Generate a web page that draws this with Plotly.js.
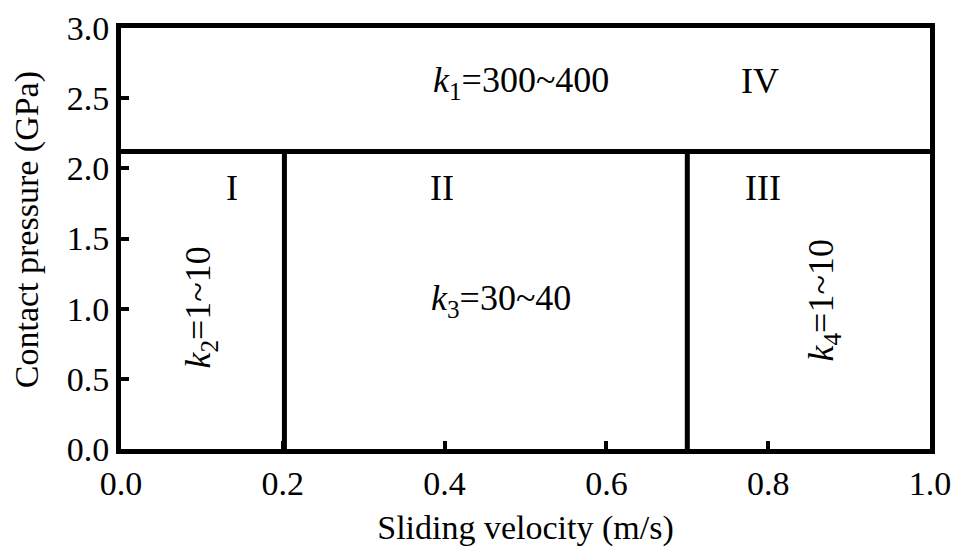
<!DOCTYPE html>
<html><head><meta charset="utf-8">
<script src="https://cdn.plot.ly/plotly-3.0.1.min.js"></script>
<style>html,body{margin:0;padding:0;background:#fff}#c{width:960px;height:547px}</style>
</head><body><div id="c"></div>
<script>
// Region boundaries
const boundaryPressure = 2.12;      // GPa, horizontal line
const boundaryVelocities = [0.202, 0.70]; // m/s, vertical lines
// Region labels
const regionLabels = ["I", "II", "III", "IV"];
const regionLabelX = [0.137, 0.397, 0.794, 0.79];
const regionLabelY = [1.86, 1.86, 1.86, 2.62];
// Coefficient labels
const coefTexts = ["<i>k</i><sub>1</sub>=300~400", "<i>k</i><sub>2</sub>=1~10", "<i>k</i><sub>3</sub>=30~40", "<i>k</i><sub>4</sub>=1~10"];
const coefX = [0.494, 0.098, 0.47, 0.868];
const coefY = [2.61, 1.01, 1.06, 1.06];
const coefAngle = [0, -90, 0, -90];
const xTicks = [0.0, 0.2, 0.4, 0.6, 0.8, 1.0];
const yTicks = [0.0, 0.5, 1.0, 1.5, 2.0, 2.5, 3.0];
const xTitle = "Sliding velocity (m/s)";
const yTitle = "Contact pressure (GPa)";

const FAM = '"Liberation Serif", "Times New Roman", serif';
function mkFont(s) { return {family: FAM, size: s, color: "#000000"}; }
const lineStyle = {color: "#000", width: 5};

const traces = [];
traces.push({x: [0, 1], y: [boundaryPressure, boundaryPressure], mode: "lines", line: lineStyle, hoverinfo: "skip", showlegend: false});
boundaryVelocities.forEach(v => {
  traces.push({x: [v, v], y: [0, boundaryPressure], mode: "lines", line: lineStyle, hoverinfo: "skip", showlegend: false});
});

const annotations = [];
regionLabels.forEach((t, i) => annotations.push({x: regionLabelX[i], y: regionLabelY[i], xref: "x", yref: "y", text: t, showarrow: false, font: mkFont(36)}));
coefTexts.forEach((t, i) => annotations.push({x: coefX[i], y: coefY[i], xref: "x", yref: "y", text: t, showarrow: false, font: mkFont(36), textangle: coefAngle[i]}));
annotations.push({x: -0.116, y: 0.52, xref: "paper", yref: "paper", xanchor: "center", yanchor: "middle",
  text: yTitle, textangle: -90, showarrow: false, font: mkFont(34)});

const layout = {
  width: 960, height: 547,
  margin: {l: 121, r: 30, t: 28, b: 98},
  paper_bgcolor: "#fff", plot_bgcolor: "#fff",
  font: mkFont(34),
  showlegend: false,
  xaxis: {
    range: [0, 1], tickvals: xTicks, ticktext: xTicks.map(v => v.toFixed(1)),
    ticks: "inside", ticklen: 8, tickwidth: 4, tickcolor: "#000",
    showline: true, linewidth: 5, linecolor: "#000", mirror: true,
    showgrid: false, zeroline: false, tickfont: mkFont(34),
    title: {text: xTitle, font: mkFont(34), standoff: 18}
  },
  yaxis: {
    range: [0, 3], tickvals: yTicks, ticktext: yTicks.map(v => v.toFixed(1)),
    ticks: "inside", ticklen: 8, tickwidth: 4, tickcolor: "#000",
    showline: true, linewidth: 5, linecolor: "#000", mirror: true,
    showgrid: false, zeroline: false, tickfont: mkFont(34)
  },
  annotations: annotations
};
Plotly.newPlot("c", traces, layout, {displayModeBar: false, staticPlot: true});
</script></body></html>
